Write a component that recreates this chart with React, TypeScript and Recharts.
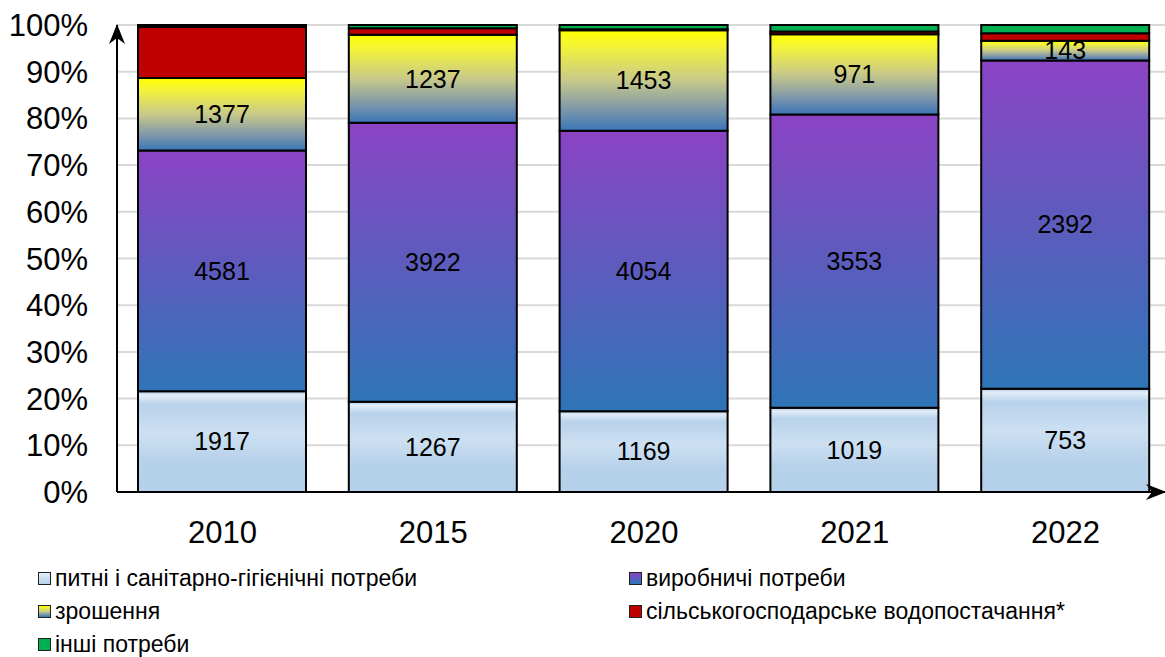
import React from 'react';
import { BarChart, Bar, XAxis, YAxis, CartesianGrid, LabelList } from 'recharts';

const years = ['2010', '2015', '2020', '2021', '2022'];
const potable = [1917, 1267, 1169, 1019, 753];
const production = [4581, 3922, 4054, 3553, 2392];
const irrigation = [1377, 1237, 1453, 971, 143];
const agricultural = [970, 92, 15, 33, 54];
const other = [40, 46, 60, 80, 61];
const yTicks = [0, 0.1, 0.2, 0.3, 0.4, 0.5, 0.6, 0.7, 0.8, 0.9, 1];

const seriesNames = {
  potable: 'питні і санітарно-гігієнічні потреби',
  production: 'виробничі потреби',
  irrigation: 'зрошення',
  agricultural: 'сільськогосподарське водопостачання*',
  other: 'інші потреби',
};

const data = years.map((y, i) => ({
  year: y,
  potable: potable[i],
  production: production[i],
  irrigation: irrigation[i],
  agricultural: agricultural[i],
  other: other[i],
}));

const FONT = '"Liberation Sans", Arial, sans-serif';

const legendItems = [
  { key: 'potable', bg: 'linear-gradient(#e3edf8, #b5d0ea)', left: 38, top: 578 },
  { key: 'production', bg: 'linear-gradient(#8a43c4, #2e75b6)', left: 629, top: 578 },
  { key: 'irrigation', bg: 'linear-gradient(#ffff00, #c8c98a, #3a75b8)', left: 38, top: 611 },
  { key: 'agricultural', bg: '#c00000', left: 629, top: 611 },
  { key: 'other', bg: '#00b050', left: 38, top: 644 },
];

export default function App() {
  const labelStyle = { fill: '#000', fontSize: 25, fontFamily: FONT };
  return (
    <div style={{ position: 'absolute', left: 0, top: 0, width: 1165, height: 657, background: '#fff', fontFamily: FONT }}>
      <BarChart
        width={1165}
        height={560}
        data={data}
        stackOffset="expand"
        margin={{ top: 25, right: 0, bottom: 8, left: 0 }}
        barSize={168}
      >
        <defs>
          <linearGradient id="gPotable" x1="0" y1="0" x2="0" y2="1">
            <stop offset="0" stopColor="#b4cfea" />
            <stop offset="0.04" stopColor="#e3edf8" />
            <stop offset="0.13" stopColor="#b8d2eb" />
            <stop offset="0.42" stopColor="#cde0f2" />
            <stop offset="0.7" stopColor="#b6d1ea" />
            <stop offset="1" stopColor="#b5d0ea" />
          </linearGradient>
          <linearGradient id="gProd" x1="0" y1="0" x2="0" y2="1">
            <stop offset="0" stopColor="#8b43c4" />
            <stop offset="1" stopColor="#2e75b6" />
          </linearGradient>
          <linearGradient id="gIrr" x1="0" y1="0" x2="0" y2="1">
            <stop offset="0" stopColor="#ffff00" />
            <stop offset="0.15" stopColor="#f5f536" />
            <stop offset="0.5" stopColor="#c8c98a" />
            <stop offset="0.8" stopColor="#7a95ab" />
            <stop offset="1" stopColor="#3a75b8" />
          </linearGradient>
          <marker id="arrowHead" viewBox="0 0 20 20" refX="19" refY="10" markerWidth="20" markerHeight="20" markerUnits="userSpaceOnUse" orient="auto-start-reverse">
            <path d="M0,2 L20,10 L0,18 L6,10 Z" fill="#000" />
          </marker>
        </defs>
        <CartesianGrid vertical={false} stroke="#d9d9d9" strokeWidth={2} />
        <XAxis
          dataKey="year"
          padding={{ left: 0, right: -6 }}
          height={60}
          tickSize={0}
          tickMargin={29}
          tickLine={false}
          axisLine={{ stroke: '#000', strokeWidth: 2, markerEnd: 'url(#arrowHead)' }}
          tick={{ fill: '#000', fontSize: 31, fontFamily: FONT }}
        />
        <YAxis
          width={117}
          domain={[0, 1]}
          ticks={yTicks}
          interval={0}
          tickSize={0}
          tickMargin={29}
          tickLine={false}
          axisLine={{ stroke: '#000', strokeWidth: 2, markerStart: 'url(#arrowHead)' }}
          tickFormatter={(v: number) => `${Math.round(v * 100)}%`}
          tick={{ fill: '#000', fontSize: 31, fontFamily: FONT }}
        />
        <Bar dataKey="potable" stackId="a" fill="url(#gPotable)" stroke="#000" strokeWidth={2} isAnimationActive={false}>
          <LabelList dataKey="potable" position="center" style={labelStyle} />
        </Bar>
        <Bar dataKey="production" stackId="a" fill="url(#gProd)" stroke="#000" strokeWidth={2} isAnimationActive={false}>
          <LabelList dataKey="production" position="center" style={labelStyle} />
        </Bar>
        <Bar dataKey="irrigation" stackId="a" fill="url(#gIrr)" stroke="#000" strokeWidth={2} isAnimationActive={false}>
          <LabelList dataKey="irrigation" position="center" style={labelStyle} />
        </Bar>
        <Bar dataKey="agricultural" stackId="a" fill="#c00000" stroke="#000" strokeWidth={2} isAnimationActive={false} />
        <Bar dataKey="other" stackId="a" fill="#00b050" stroke="#000" strokeWidth={2} isAnimationActive={false} />
      </BarChart>
      {legendItems.map((it) => (
        <div
          key={it.key}
          style={{
            position: 'absolute',
            left: it.left,
            top: it.top - 14,
            height: 28,
            display: 'flex',
            alignItems: 'center',
            whiteSpace: 'nowrap',
            fontSize: 23,
            color: '#000',
          }}
        >
          <span
            style={{
              display: 'inline-block',
              width: 11,
              height: 11,
              border: '1.5px solid #222',
              background: it.bg,
              marginRight: 4,
            }}
          />
          <span>{(seriesNames as any)[it.key]}</span>
        </div>
      ))}
    </div>
  );
}
